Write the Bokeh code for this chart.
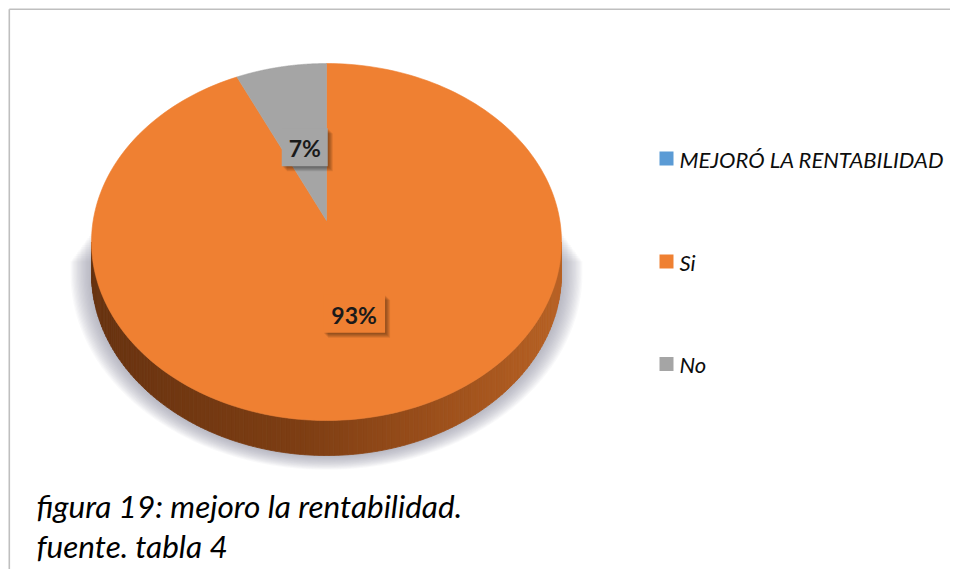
import numpy as np
from bokeh.plotting import figure
from bokeh.models import Range1d
from bokeh.core.properties import value
from bokeh.embed import file_html
from bokeh.resources import INLINE

# ---------------- data ----------------
categories = ["Si", "No"]
percentages = [93, 7]
slice_colors = ["#EF8032", "#A5A5A5"]
label_texts = ["93%", "7%"]
legend_labels = ["MEJORÓ LA RENTABILIDAD", "Si", "No"]
legend_colors = ["#5B9BD5", "#EF8032", "#A5A5A5"]
caption_lines = ["figura 19: mejoro la rentabilidad.", "fuente. tabla 4"]

# ---------------- layout (pixel-like data space) ----------------
W, H = 950, 569
p = figure(width=W, height=H, output_backend="svg", toolbar_location=None,
           x_range=Range1d(0, W), y_range=Range1d(H, 0),
           min_border=0, x_axis_location=None, y_axis_location=None,
           background_fill_color="white", border_fill_color="white")
p.grid.visible = False
p.outline_line_color = None

CX, CY = 326.0, 220.0      # projected pie centre
A, B, PERSP = 233.3, 175.9, 0.1205
DEPTH = 30.8


def proj(r, phi):
    u = r * np.sin(phi)
    v = r * np.cos(phi)
    w = 1 + PERSP * v
    return CX + A * u / w, CY - B * v / w


def side_depth(phi):
    return DEPTH / (1 + PERSP * np.cos(phi))


phi_l = np.arccos(-PERSP)           # right horizontal extreme
phi_r = 2 * np.pi - phi_l           # left horizontal extreme
front = np.linspace(phi_l, phi_r, 160)

# ---------------- shadow ----------------
n_sh = 16
for k in range(n_sh):
    e = 21.0 * (k + 1) / n_sh
    bx, by = proj(1.0, front)
    by = by + side_depth(front)
    dx, dy = bx - CX, by - 250.0
    nrm = np.hypot(dx, dy)
    sx = bx + e * dx / nrm
    sy = by + 0.68 * e * dy / nrm
    ytop = 232 + 1.8 * (k + 1)
    xs = [sx[0]] + list(sx) + [sx[-1]]
    ys = [ytop] + list(sy) + [ytop]
    p.patch(xs, ys, fill_color="#8a929c", fill_alpha=0.055, line_color=None)

# ---------------- side of the pie ----------------
def lerp_col(t):
    stops = [(0.0, (184, 98, 36)), (0.3, (152, 77, 26)), (0.55, (126, 62, 19)),
             (1.0, (104, 51, 16))]
    for (t0, c0), (t1, c1) in zip(stops[:-1], stops[1:]):
        if t <= t1:
            f = (t - t0) / (t1 - t0)
            c = [int(round(a + (b - a) * f)) for a, b in zip(c0, c1)]
            return "#%02x%02x%02x" % tuple(c)
    return "#%02x%02x%02x" % stops[-1][1]

sxs, sys_, scol = [], [], []
for i in range(len(front) - 1):
    a0, a1 = front[i], front[i + 1]
    x0, y0 = proj(1.0, a0)
    x1, y1 = proj(1.0, a1)
    d0, d1 = side_depth(a0), side_depth(a1)
    sxs.append([x0, x1, x1, x0])
    sys_.append([y0, y1, y1 + d1, y0 + d0])
    t = 1 - ((x0 + x1) / 2 - (CX - 235)) / 470.0
    scol.append(lerp_col(t))
p.patches(sxs, sys_, fill_color=scol, line_color=scol, line_width=0.8)

# ---------------- top face slices ----------------
cum = np.concatenate([[0], np.cumsum(percentages)]) / float(sum(percentages))
txs, tys = [], []
for i in range(len(percentages)):
    ang = np.linspace(cum[i] * 2 * np.pi, cum[i + 1] * 2 * np.pi, 200)
    ax, ay = proj(1.0, ang)
    txs.append([CX] + list(ax))
    tys.append([CY] + list(ay))
p.patches(txs, tys, fill_color=slice_colors, line_color=slice_colors, line_width=0.6)

# ---------------- data labels ----------------
label_r = [0.51, 0.45]
lx, ly = [], []
for i in range(len(percentages)):
    mid = (cum[i] + cum[i + 1]) * np.pi
    x, y = proj(label_r[i], mid)
    lx.append(float(x))
    ly.append(float(y))
bw = [14 + 16 * len(t) for t in label_texts]
bh = 38
for s in range(1, 6):
    p.quad(left=[x - w / 2 + s for x, w in zip(lx, bw)],
           right=[x + w / 2 + s for x, w in zip(lx, bw)],
           top=[y - bh / 2 + s for y in ly], bottom=[y + bh / 2 + s for y in ly],
           fill_color="black", fill_alpha=0.09, line_color=None)
p.quad(left=[x - w / 2 for x, w in zip(lx, bw)], right=[x + w / 2 for x, w in zip(lx, bw)],
       top=[y - bh / 2 for y in ly], bottom=[y + bh / 2 for y in ly],
       fill_color=slice_colors, line_color=None)
p.text(x=lx, y=[y + 1 for y in ly], text=label_texts, text_font=value("Lato"),
       text_font_style="bold", text_font_size=value("23px"), text_align="center",
       text_baseline="middle", text_color="#1a1a1a")

# ---------------- legend ----------------
leg_y = [158, 261, 363.5]
p.quad(left=[659] * 3, right=[673] * 3, top=[y - 7 for y in leg_y],
       bottom=[y + 7 for y in leg_y], fill_color=legend_colors, line_color=None)
p.text(x=[679] * 3, y=[y + 0.5 for y in leg_y], text=legend_labels, text_font=value("Lato"),
       text_font_style="italic", text_font_size=value("22px"), text_align="left",
       text_baseline="middle", text_color="#0d0d0d")

# ---------------- caption ----------------
p.text(x=[36, 36], y=[505, 545], text=caption_lines, text_font=value("Lato"),
       text_font_style="italic", text_font_size=value("31.5px"), text_align="left",
       text_baseline="alphabetic", text_color="#000000")

# ---------------- frame border (top & left) ----------------
p.line([8.8, 8.8], [H, 8.8], line_color="#bfbfbf", line_width=1.6)
p.line([8.8, W], [8.8, 8.8], line_color="#bfbfbf", line_width=1.6)

open("out.html", "w").write(file_html(p, INLINE))
